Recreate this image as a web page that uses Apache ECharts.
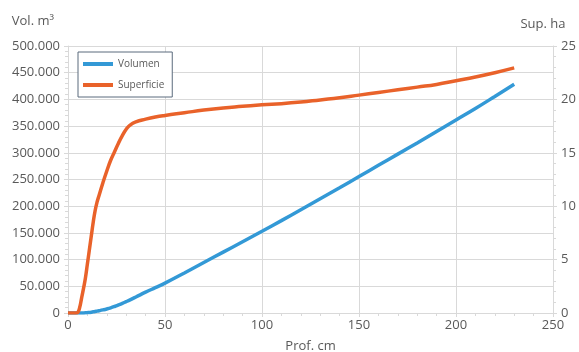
<!DOCTYPE html>
<html>
<head>
<meta charset="utf-8">
<script src="https://cdn.jsdelivr.net/npm/echarts@6/dist/echarts.min.js"></script>
<style>
  html, body { margin: 0; padding: 0; background: #ffffff; }
  #chart { width: 579px; height: 352px; }
</style>
</head>
<body>
<div id="chart"></div>
<script>
// Depth (cm) at which each pair of readings is taken
const depthCm = [0, 2, 4, 5, 6, 7, 8, 9, 10, 11, 12, 13, 14, 15, 16, 18, 20, 22, 24, 26, 28, 30, 32, 35, 40, 45, 50,
  60, 70, 80, 90, 100, 110, 120, 130, 140, 150, 160, 170, 180, 190, 200, 210, 220, 230];

// Stored volume (m³)
const volumen = [0, 0, 0, 0, 0, 50, 150, 350, 700, 1100, 1600, 2200, 2800, 3500, 4200, 5800, 7600, 9700, 12200, 15000, 18000, 21300, 24700, 30000, 39000, 47500, 56000,
  75000, 94500, 114000, 133500, 153000, 173000, 193500, 214000, 234500, 255500, 276500, 297500, 318500, 340000, 361500, 383000, 405500, 428500];

// Flooded surface (ha)
const superficie = [0, 0, 0, 0.05, 0.5, 1.4, 2.3, 3.3, 4.6, 5.9, 7.2, 8.5, 9.6, 10.4, 11.0, 12.2, 13.3, 14.3, 15.1, 15.9, 16.6, 17.2, 17.6, 17.9, 18.15, 18.35, 18.5,
  18.75, 19.0, 19.2, 19.35, 19.5, 19.6, 19.75, 19.95, 20.15, 20.4, 20.65, 20.9, 21.15, 21.4, 21.75, 22.1, 22.5, 22.95];

const seriesNames = ['Volumen', 'Superficie'];
const axisNames = { x: 'Prof. cm', left: 'Vol. m³', right: 'Sup. ha' };

const textColor = '#595959';
const gridColor = '#d9d9d9';
const fontFamily = '"Open Sans", "Noto Sans", sans-serif';

function thousands(v) {
  return String(v).replace(/\B(?=(\d{3})+(?!\d))/g, '.');
}

const chart = echarts.init(document.getElementById('chart'), null, { renderer: 'canvas' });

const commonAxis = {
  axisLine: { show: true, lineStyle: { color: gridColor, width: 1 } },
  axisTick: { show: true, length: 4, lineStyle: { color: gridColor } },
  minorTick: { show: true, splitNumber: 5, length: 3, lineStyle: { color: gridColor } },
  axisLabel: { color: textColor, fontSize: 13, fontFamily: fontFamily },
  nameTextStyle: { color: textColor, fontSize: 13, fontFamily: fontFamily }
};

chart.setOption({
  animation: false,
  backgroundColor: '#ffffff',
  grid: { left: 68, right: 26, top: 46, bottom: 39, outerBoundsMode: 'none', containLabel: false },
  legend: {
    orient: 'vertical',
    left: 78,
    top: 52,
    data: seriesNames,
    icon: 'rect',
    itemWidth: 30,
    itemHeight: 4,
    itemGap: 11,
    padding: [7, 8, 7, 5],
    borderColor: '#5b6b7c',
    borderWidth: 1,
    backgroundColor: '#ffffff',
    textStyle: { color: textColor, fontSize: 10, fontFamily: fontFamily }
  },
  xAxis: Object.assign({}, commonAxis, {
    type: 'value',
    min: 0,
    max: 250,
    interval: 50,
    name: axisNames.x,
    nameLocation: 'middle',
    nameGap: 27,
    splitLine: { show: true, lineStyle: { color: gridColor } },
    axisLabel: Object.assign({}, commonAxis.axisLabel, { margin: 6 })
  }),
  yAxis: [
    Object.assign({}, commonAxis, {
      type: 'value',
      min: 0,
      max: 500000,
      interval: 50000,
      position: 'left',
      name: axisNames.left,
      nameLocation: 'end',
      nameGap: 18,
      nameTextStyle: Object.assign({}, commonAxis.nameTextStyle, { align: 'right', padding: [0, 14, 0, 0] }),
      splitLine: { show: true, lineStyle: { color: gridColor } },
      axisLabel: Object.assign({}, commonAxis.axisLabel, { formatter: thousands, margin: 8 })
    }),
    Object.assign({}, commonAxis, {
      type: 'value',
      min: 0,
      max: 25,
      interval: 5,
      position: 'right',
      name: axisNames.right,
      nameLocation: 'end',
      nameGap: 15,
      nameTextStyle: Object.assign({}, commonAxis.nameTextStyle, { align: 'center', padding: [0, 20, 0, 0] }),
      splitLine: { show: false },
      axisLabel: Object.assign({}, commonAxis.axisLabel, { margin: 8 })
    })
  ],
  series: [
    {
      name: seriesNames[0],
      type: 'line',
      yAxisIndex: 0,
      showSymbol: false,
      smooth: true,
      lineStyle: { color: '#3399d6', width: 3.5 },
      itemStyle: { color: '#3399d6' },
      data: depthCm.map((d, i) => [d, volumen[i]])
    },
    {
      name: seriesNames[1],
      type: 'line',
      yAxisIndex: 1,
      showSymbol: false,
      smooth: true,
      lineStyle: { color: '#e9622a', width: 3.5 },
      itemStyle: { color: '#e9622a' },
      data: depthCm.map((d, i) => [d, superficie[i]])
    }
  ]
});
</script>
</body>
</html>
